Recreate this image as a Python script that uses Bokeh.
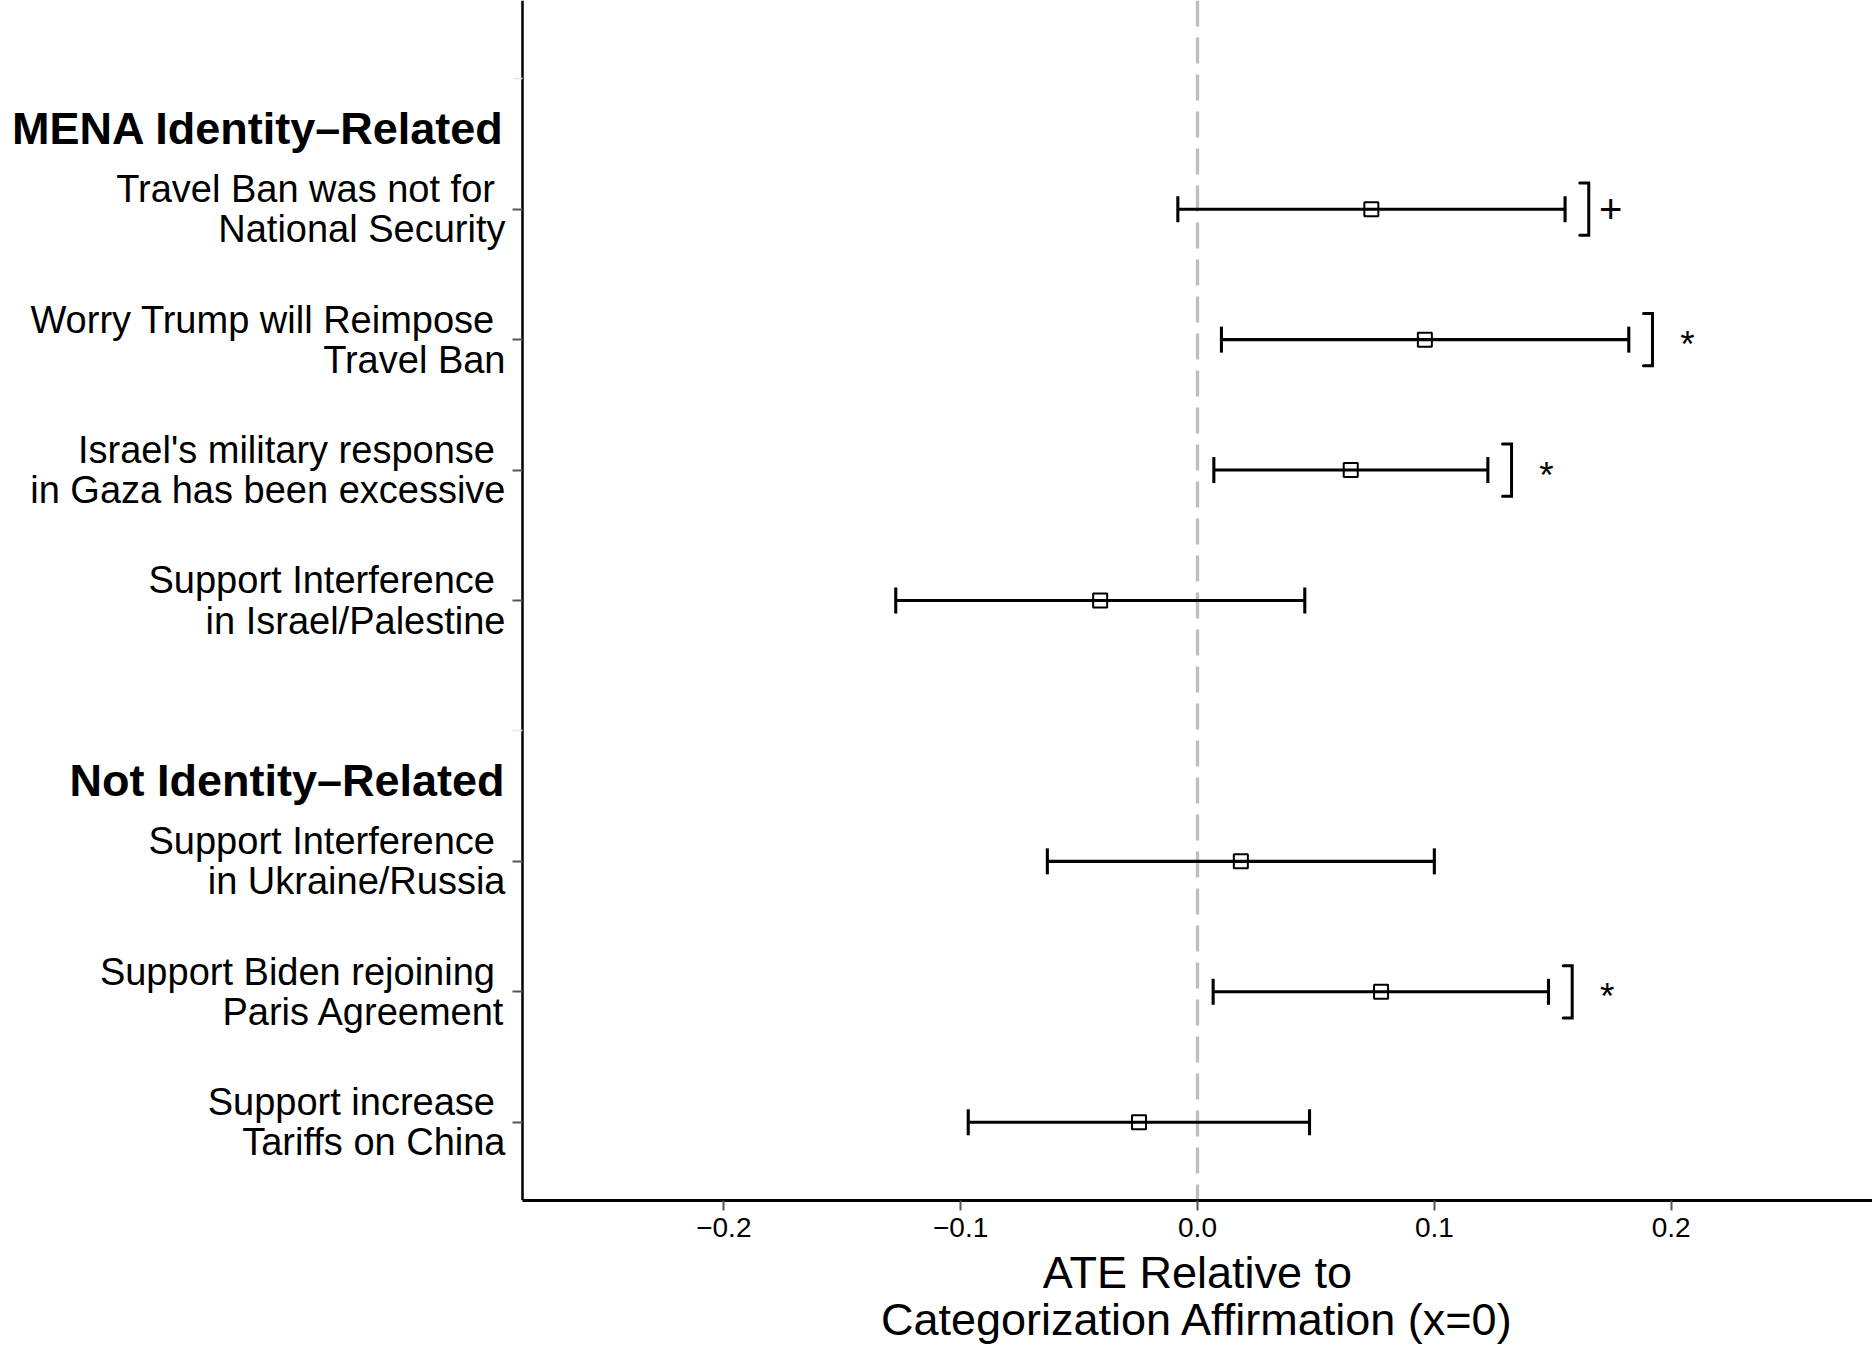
from bokeh.plotting import figure
from bokeh.models import (ColumnDataSource, FixedTicker, LinearAxis, Range1d,
                          Span, TeeHead, Whisker)
from bokeh.core.properties import value
from bokeh.embed import file_html
from bokeh.resources import INLINE

# Survey outcomes, grouped by whether they relate to MENA identity
groups = ["MENA Identity–Related", "Not Identity–Related"]
group_of_item = [0, 0, 0, 0, 1, 1, 1]
items = [
    "Travel Ban was not for \nNational Security",
    "Worry Trump will Reimpose \nTravel Ban",
    "Israel's military response \nin Gaza has been excessive",
    "Support Interference \nin Israel/Palestine",
    "Support Interference \nin Ukraine/Russia",
    "Support Biden rejoining \nParis Agreement",
    "Support increase \nTariffs on China",
]
# Average treatment effects with 95% confidence intervals
ate = [0.0734, 0.0960, 0.0647, -0.0411, 0.0183, 0.0775, -0.0247]
ci_low = [-0.0083, 0.0101, 0.0069, -0.1274, -0.0634, 0.0066, -0.0968]
ci_high = [0.1552, 0.1821, 0.1226, 0.0453, 0.1000, 0.1482, 0.0473]
sig = ["+", "*", "*", "", "", "*", ""]

x_ticks = [-0.2, -0.1, 0.0, 0.1, 0.2]
x_tick_labels = ["−0.2", "−0.1", "0.0", "0.1", "0.2"]
x_title = "ATE Relative to\nCategorization Affirmation (x=0)"

FONT = "Liberation Sans"
W, H = 1872, 1359
PANEL_LEFT = 522          # pixel column where the plotting panel starts
BOTTOM = 159              # space under the panel for the x axis

# Slot positions: each group gets a header slot followed by its items
header_pos = []
item_pos = []
slot = 0
for g in range(len(groups)):
    slot += 1
    header_pos.append(slot)
    for gi in group_of_item:
        if gi == g:
            slot += 1
            item_pos.append(slot)
n_slots = slot

src = ColumnDataSource(dict(row=item_pos, ate=ate, lo=ci_low, hi=ci_high))

# Panel limits; the range is widened to the left so labels live in the frame
x_lo, x_hi = -0.285, 0.285
px_per_unit = (W - PANEL_LEFT) / (x_hi - x_lo)
x_start = x_lo - PANEL_LEFT / px_per_unit

p = figure(width=W, height=H,
           x_range=Range1d(x_start, x_hi),
           y_range=Range1d(n_slots + 0.6, 0.4),
           output_backend="svg", toolbar_location=None,
           min_border_left=0, min_border_right=0,
           min_border_top=0, min_border_bottom=BOTTOM)
p.outline_line_color = None
p.grid.visible = False
p.background_fill_color = "white"
p.border_fill_color = "white"

# Reference line at zero
p.add_layout(Span(location=0, dimension="height", line_color="#BEBEBE",
                  line_width=3.3, line_dash="26 11", level="underlay"))

# Confidence intervals
whisk = Whisker(source=src, base="row", lower="lo", upper="hi",
                dimension="width", line_color="black", line_width=3.1,
                lower_head=TeeHead(size=26, line_width=3.1, line_color="black"),
                upper_head=TeeHead(size=26, line_width=3.1, line_color="black"))
p.add_layout(whisk)

# Point estimates
p.scatter(x="ate", y="row", source=src, marker="square", size=14,
          fill_color=None, line_color="black", line_width=2)

# Significance brackets and markers
br_x, br_y, sx, sy, stext, sdx, sdy, ssize = [], [], [], [], [], [], [], []
stub = 0.0038
for r, h, s in zip(item_pos, ci_high, sig):
    if not s:
        continue
    b = h + 0.01
    br_x.append([b - stub, b, b, b - stub])
    br_y.append([r - 0.2, r - 0.2, r + 0.2, r + 0.2])
    sx.append(b)
    sy.append(r)
    stext.append(s)
    sdx.append(22 if s == "+" else 35)
    sdy.append(0 if s == "+" else 5)
    ssize.append("40px" if s == "+" else "37px")
p.multi_line(xs=br_x, ys=br_y, line_color="black", line_width=3,
             line_join="miter", line_cap="round")
p.text(x=sx, y=sy, text=stext, x_offset=sdx, y_offset=sdy,
       text_align="center", text_baseline="middle",
       text_font=value(FONT), text_font_size=ssize, text_color="black")

# x axis, drawn only over the panel
xa = p.xaxis[0]
xa.bounds = (x_lo, x_hi)
xa.ticker = FixedTicker(ticks=x_ticks)
xa.major_label_overrides = {t: l for t, l in zip(x_ticks, x_tick_labels)}
xa.minor_tick_line_color = None
xa.axis_line_color = "black"
xa.axis_line_width = 3
xa.major_tick_line_color = "#555555"
xa.major_tick_line_width = 2
xa.major_tick_out = 10
xa.major_tick_in = 0
xa.major_label_standoff = 7
xa.major_label_text_font = FONT
xa.major_label_text_font_size = "28px"
xa.major_label_text_color = "black"

# x title, centred under the panel
x_mid = (x_lo + x_hi) / 2
title_axis = LinearAxis(ticker=FixedTicker(ticks=[x_mid]),
                        major_label_overrides={x_mid: x_title},
                        axis_line_color=None, major_tick_line_color=None,
                        major_tick_out=0, major_tick_in=0,
                        minor_tick_line_color=None, major_label_standoff=7,
                        major_label_text_font=FONT,
                        major_label_text_font_size="45px",
                        major_label_text_color="black",
                        major_label_text_line_height=0.93)
p.add_layout(title_axis, "below")

# y axis pinned to the panel's left edge
ya = p.yaxis[0]
ya.fixed_location = x_lo
ya.ticker = FixedTicker(ticks=item_pos)
ya.major_label_overrides = {r: t for r, t in zip(item_pos, items)}
ya.minor_tick_line_color = None
ya.axis_line_color = "black"
ya.axis_line_width = 2.5
ya.major_tick_line_color = "#555555"
ya.major_tick_line_width = 2
ya.major_tick_out = 10
ya.major_tick_in = 0
ya.major_label_standoff = 7
ya.major_label_text_font = FONT
ya.major_label_text_font_size = "38px"
ya.major_label_text_color = "black"
ya.major_label_text_line_height = 0.956

# faint ticks at the group header slots
ha = LinearAxis(fixed_location=x_lo, ticker=FixedTicker(ticks=header_pos),
                axis_line_color=None, major_tick_line_color="#E3E3E3",
                major_tick_line_width=1.5, major_tick_out=10, major_tick_in=0,
                minor_tick_line_color=None, major_label_text_font_size="0px",
                major_label_overrides={hp: "" for hp in header_pos})
p.add_layout(ha, "left")

# Group headers
p.text(x=[x_lo] * len(groups), y=[hp + 0.38 for hp in header_pos], text=groups,
       x_offset=-18, text_align="right", text_baseline="middle",
       text_font=value(FONT), text_font_size="45px", text_font_style="bold",
       text_color="black")

open("out.html", "w").write(file_html(p, INLINE))
